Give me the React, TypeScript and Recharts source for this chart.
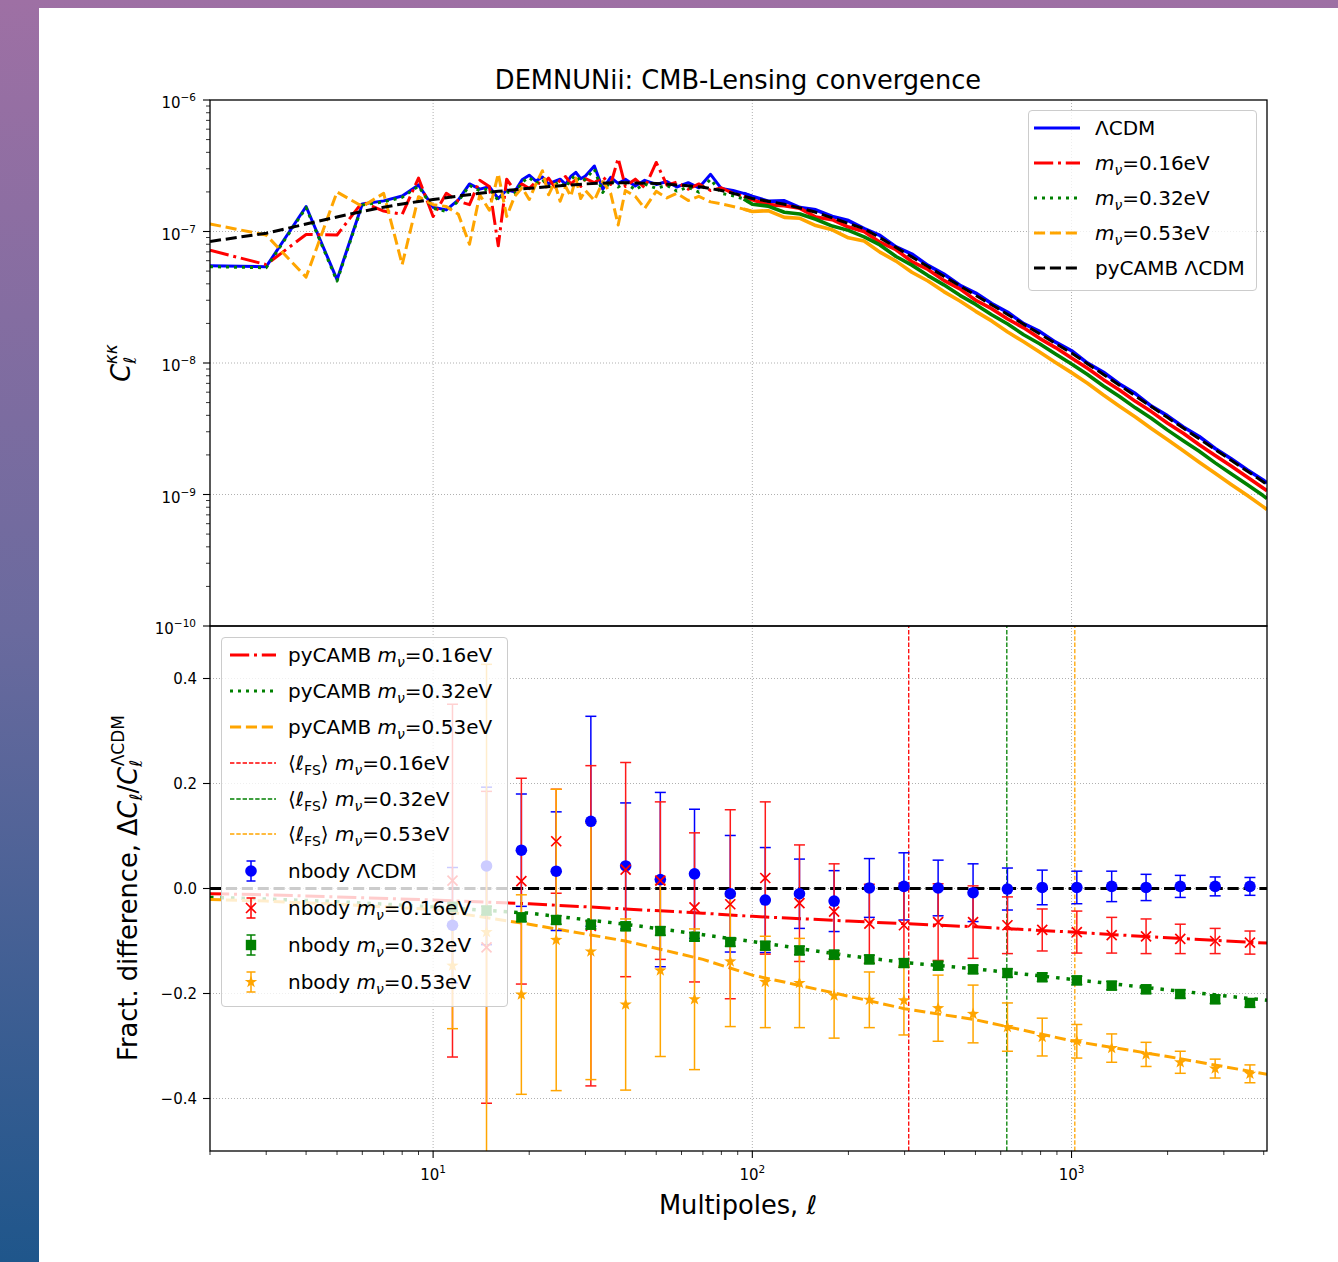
import React from 'react';
import { ComposedChart, Line, Scatter, ErrorBar, XAxis, YAxis, ReferenceLine } from 'recharts';

const FONT = '"DejaVu Sans", Verdana, sans-serif';

// matplotlib axes boxes
const PLOT_LEFT = 210;
const PLOT_RIGHT = 1267;
const TOP_Y0 = 100;
const MID_Y = 626;
const BOT_Y1 = 1151;

const BLUE = '#0000ff';
const RED = '#ff0000';
const GREEN = '#008000';
const ORANGE = '#ffa500';

// ---------- top panel: N-body convergence spectra ----------
const topL = [
  2, 3, 4, 5, 6, 7, 8, 9, 10, 11, 12, 13, 14, 15, 16, 17, 18, 19, 20, 21, 22, 23, 24, 25, 26, 27, 28, 29, 30,
  32, 34, 36, 38, 40, 43, 46, 50, 54, 58, 63, 68, 74, 80, 87, 94,
  100, 112, 126, 141, 158, 178, 200, 224, 251, 282, 316, 355, 398, 447, 501, 562, 631, 708, 794, 891,
  1000, 1122, 1259, 1413, 1585, 1778, 1995, 2239, 2512, 2818, 3162, 3548, 3981, 4096,
];

const lcdmTop = [
  5.5e-8, 5.4e-8, 1.55e-7, 4.3e-8, 1.62e-7, 1.71e-7, 1.86e-7, 2.26e-7, 1.53e-7, 1.46e-7, 1.74e-7, 2.3e-7, 2.1e-7, 2.19e-7,
  1.78e-7, 2.07e-7, 2.0e-7, 2.47e-7, 2.68e-7, 2.42e-7, 2.6e-7, 2.3e-7, 2.4e-7, 2.5e-7, 2.28e-7, 2.62e-7, 2.82e-7, 2.52e-7, 2.64e-7,
  3.15e-7, 2.1e-7, 2.58e-7, 2.32e-7, 2.5e-7, 2.22e-7, 2.45e-7, 2.28e-7, 2.4e-7, 2.18e-7, 2.35e-7, 2.15e-7, 2.72e-7, 2.12e-7, 2.05e-7, 1.95e-7,
  1.85e-7, 1.7e-7, 1.71e-7, 1.52e-7, 1.46e-7, 1.3e-7, 1.21e-7, 1.05e-7, 9.33e-8, 7.64e-8, 6.74e-8, 5.52e-8, 4.75e-8, 3.9e-8, 3.4e-8,
  2.83e-8, 2.43e-8, 1.99e-8, 1.74e-8, 1.44e-8, 1.24e-8, 9.97e-9, 8.51e-9, 6.92e-9, 5.85e-9, 4.7e-9, 3.98e-9, 3.26e-9, 2.76e-9,
  2.24e-9, 1.87e-9, 1.54e-9, 1.29e-9, 1.22e-9,
];

const nu016Top = [
  7.2e-8, 5.6e-8, 9.5e-8, 9.4e-8, 1.67e-7, 1.43e-7, 1.35e-7, 2.55e-7, 1.3e-7, 1.95e-7, 1.7e-7, 1.6e-7, 2.45e-7, 2.2e-7,
  7.8e-8, 2.5e-7, 2.05e-7, 2.3e-7, 2.12e-7, 2.4e-7, 2.25e-7, 2.55e-7, 2.18e-7, 2.45e-7, 2.62e-7, 2.3e-7, 2.48e-7, 2.2e-7, 2.52e-7,
  2.35e-7, 2.6e-7, 2.28e-7, 3.6e-7, 2.2e-7, 2.5e-7, 2.15e-7, 3.35e-7, 2.25e-7, 2.38e-7, 2.1e-7, 2.3e-7, 2.05e-7, 2.15e-7, 1.95e-7, 1.85e-7,
  1.74e-7, 1.6e-7, 1.57e-7, 1.5e-7, 1.29e-7, 1.23e-7, 1.08e-7, 1.0e-7, 8.3e-8, 7.27e-8, 5.91e-8, 5.14e-8, 4.25e-8, 3.66e-8, 3.0e-8,
  2.59e-8, 2.16e-8, 1.85e-8, 1.54e-8, 1.31e-8, 1.09e-8, 9.12e-9, 7.47e-9, 6.24e-9, 5.11e-9, 4.27e-9, 3.5e-9, 2.92e-9, 2.39e-9,
  1.98e-9, 1.65e-9, 1.36e-9, 1.12e-9, 1.07e-9,
];

const nu032Top = [
  5.4e-8, 5.3e-8, 1.52e-7, 4.2e-8, 1.59e-7, 1.68e-7, 1.82e-7, 2.21e-7, 1.5e-7, 1.42e-7, 1.7e-7, 2.24e-7, 2.04e-7, 2.12e-7,
  1.72e-7, 2.0e-7, 1.93e-7, 2.38e-7, 2.58e-7, 2.32e-7, 2.49e-7, 2.2e-7, 2.29e-7, 2.38e-7, 2.17e-7, 2.49e-7, 2.68e-7, 2.39e-7, 2.5e-7,
  2.98e-7, 1.98e-7, 2.43e-7, 2.18e-7, 2.35e-7, 2.08e-7, 2.29e-7, 2.13e-7, 2.24e-7, 2.03e-7, 2.18e-7, 1.99e-7, 2.5e-7, 1.95e-7, 1.87e-7, 1.77e-7,
  1.61e-7, 1.56e-7, 1.4e-7, 1.36e-7, 1.24e-7, 1.1e-7, 1.02e-7, 9.09e-8, 7.9e-8, 6.45e-8, 5.55e-8, 4.62e-8, 3.93e-8, 3.27e-8, 2.79e-8,
  2.33e-8, 1.98e-8, 1.64e-8, 1.4e-8, 1.17e-8, 9.82e-9, 8.18e-9, 6.68e-9, 5.57e-9, 4.56e-9, 3.8e-9, 3.1e-9, 2.56e-9, 2.13e-9,
  1.74e-9, 1.44e-9, 1.19e-9, 9.81e-10, 9.33e-10,
];

const nu053Top = [
  1.14e-7, 9.4e-8, 4.5e-8, 2.0e-7, 1.55e-7, 1.95e-7, 5.6e-8, 1.84e-7, 1.6e-7, 1.55e-7, 1.35e-7, 8.0e-8, 1.9e-7, 1.45e-7,
  2.75e-7, 1.3e-7, 1.85e-7, 2.15e-7, 1.75e-7, 2.3e-7, 2.9e-7, 1.9e-7, 2.35e-7, 1.7e-7, 2.2e-7, 1.85e-7, 2.55e-7, 1.78e-7, 2.05e-7,
  1.72e-7, 2.4e-7, 1.95e-7, 1.12e-7, 2.05e-7, 1.85e-7, 1.5e-7, 2.02e-7, 1.8e-7, 1.95e-7, 1.72e-7, 1.85e-7, 1.68e-7, 1.62e-7, 1.55e-7, 1.48e-7,
  1.42e-7, 1.44e-7, 1.28e-7, 1.26e-7, 1.11e-7, 1.03e-7, 8.96e-8, 8.46e-8, 6.97e-8, 5.95e-8, 4.9e-8, 4.2e-8, 3.49e-8, 2.96e-8, 2.47e-8,
  2.09e-8, 1.72e-8, 1.45e-8, 1.21e-8, 1.01e-8, 8.45e-9, 7.02e-9, 5.71e-9, 4.69e-9, 3.89e-9, 3.18e-9, 2.62e-9, 2.15e-9, 1.76e-9,
  1.45e-9, 1.19e-9, 9.85e-10, 8.09e-10, 7.68e-10,
];

// pyCAMB LCDM reference spectrum
const cambL = [
  2, 3, 4, 5, 6, 7, 8, 9, 10, 12, 14, 16, 18, 20, 25, 30, 35, 40, 50, 60, 70, 80, 90,
  100, 112, 126, 141, 158, 178, 200, 224, 251, 282, 316, 355, 398, 447, 501, 562, 631, 708, 794, 891,
  1000, 1122, 1259, 1413, 1585, 1778, 1995, 2239, 2512, 2818, 3162, 3548, 3981, 4096,
];
const cambLcdm = [
  8.4e-8, 9.7e-8, 1.14e-7, 1.29e-7, 1.42e-7, 1.53e-7, 1.62e-7, 1.69e-7, 1.75e-7, 1.86e-7, 1.95e-7, 2.02e-7, 2.08e-7, 2.13e-7,
  2.23e-7, 2.3e-7, 2.34e-7, 2.35e-7, 2.32e-7, 2.25e-7, 2.17e-7, 2.05e-7, 1.91e-7,
  1.78e-7, 1.7e-7, 1.61e-7, 1.51e-7, 1.4e-7, 1.27e-7, 1.15e-7, 1.05e-7, 8.97e-8, 7.57e-8, 6.41e-8, 5.41e-8, 4.57e-8, 3.86e-8,
  3.27e-8, 2.77e-8, 2.34e-8, 1.97e-8, 1.67e-8, 1.41e-8,
  1.19e-8, 9.87e-9, 8.18e-9, 6.78e-9, 5.62e-9, 4.66e-9, 3.86e-9, 3.2e-9, 2.65e-9, 2.2e-9, 1.82e-9, 1.51e-9, 1.25e-9, 1.19e-9,
];

// ---------- bottom panel: fractional differences ----------
const fracL = [2, 3, 5, 10, 20, 40, 70, 100, 200, 300, 500, 1000, 2000, 4096];
const camb016 = [-0.01, -0.012, -0.016, -0.022, -0.029, -0.039, -0.047, -0.053, -0.062, -0.067, -0.073, -0.083, -0.094, -0.104];
const camb032 = [-0.017, -0.02, -0.025, -0.035, -0.047, -0.068, -0.088, -0.101, -0.128, -0.141, -0.153, -0.173, -0.193, -0.213];
const camb053 = [-0.021, -0.024, -0.03, -0.04, -0.068, -0.1, -0.135, -0.165, -0.205, -0.229, -0.25, -0.29, -0.32, -0.354];

// mean free-streaming multipoles
const lfs016 = 309;
const lfs032 = 627;
const lfs053 = 1024;

// binned N-body measurements
const binL = [11.5, 14.7, 18.9, 24.3, 31.2, 40.1, 51.5, 65.9, 85.3, 109.8, 140.5, 180.4, 232.6, 298.5, 382, 491.5, 629.8, 809.5, 1039, 1336, 1712, 2191, 2818, 3622];
const lcdmFrac = [-0.07, 0.043, 0.073, 0.033, 0.128, 0.043, 0.017, 0.028, -0.01, -0.022, -0.01, -0.024, 0.001, 0.004, 0.001, -0.008, -0.001, 0.002, 0.002, 0.004, 0.002, 0.004, 0.004, 0.004];
const lcdmErr = [0.11, 0.15, 0.107, 0.113, 0.2, 0.12, 0.166, 0.123, 0.111, 0.1, 0.066, 0.058, 0.056, 0.064, 0.053, 0.055, 0.04, 0.033, 0.031, 0.029, 0.025, 0.021, 0.018, 0.017];
const nu016Frac = [0.015, -0.112, 0.014, 0.09, -0.071, 0.036, 0.015, -0.036, -0.03, 0.02, -0.028, -0.044, -0.067, -0.07, -0.064, -0.064, -0.07, -0.079, -0.083, -0.089, -0.091, -0.096, -0.1, -0.103];
const nu016Err = [0.336, 0.297, 0.196, 0.099, 0.305, 0.204, 0.15, 0.142, 0.18, 0.145, 0.111, 0.091, 0.075, 0.08, 0.073, 0.069, 0.054, 0.04, 0.04, 0.034, 0.033, 0.028, 0.024, 0.022];
const nu032Frac = [-0.035, -0.042, -0.055, -0.06, -0.069, -0.072, -0.081, -0.092, -0.102, -0.109, -0.118, -0.126, -0.135, -0.142, -0.147, -0.154, -0.161, -0.169, -0.175, -0.185, -0.192, -0.201, -0.211, -0.218];
const nu032Err = [0.008, 0.008, 0.008, 0.008, 0.008, 0.008, 0.008, 0.008, 0.008, 0.008, 0.008, 0.008, 0.008, 0.008, 0.008, 0.008, 0.008, 0.008, 0.008, 0.008, 0.008, 0.008, 0.008, 0.008];
const nu053Frac = [-0.147, -0.083, -0.202, -0.098, -0.12, -0.221, -0.156, -0.211, -0.139, -0.178, -0.18, -0.204, -0.212, -0.213, -0.228, -0.239, -0.264, -0.283, -0.291, -0.304, -0.316, -0.331, -0.343, -0.353];
const nu053Err = [0.12, 0.51, 0.19, 0.287, 0.244, 0.163, 0.164, 0.134, 0.124, 0.087, 0.085, 0.081, 0.053, 0.066, 0.063, 0.055, 0.046, 0.036, 0.032, 0.027, 0.023, 0.021, 0.018, 0.017];

// tick positions
const xMajor = [10, 100, 1000];
const xTicks: number[] = [];
[1, 10, 100, 1000].forEach((d) => {
  for (let m = 1; m <= 9; m++) if (m * d >= 2 && m * d <= 4096) xTicks.push(m * d);
});
const yTopTicks: number[] = [];
[-10, -9, -8, -7].forEach((e) => {
  for (let m = 1; m <= 9; m++) yTopTicks.push(m * Math.pow(10, e));
});
yTopTicks.push(1e-6);
const yTopGrid = [1e-9, 1e-8, 1e-7];
const yBotTicks = [-0.4, -0.2, 0, 0.2, 0.4];

// ---------- tables for recharts ----------
const topData = topL.map((l, i) => ({ l, lcdm: lcdmTop[i], nu016: nu016Top[i], nu032: nu032Top[i], nu053: nu053Top[i] }));
// above l~100 the simulated spectra are a dense noisy band, so they read as solid there
const topLow = topData.filter((d) => d.l <= 100);
const topHigh = topData.filter((d) => d.l >= 94);
const cambTopData = cambL.map((l, i) => ({ l, v: cambLcdm[i] }));
const frac016Data = fracL.map((l, i) => ({ l, v: camb016[i] }));
const frac032Data = fracL.map((l, i) => ({ l, v: camb032[i] }));
const frac053Data = fracL.map((l, i) => ({ l, v: camb053[i] }));
const bins = (ys: number[], errs: number[]) => binL.map((l, i) => ({ l, y: ys[i], err: errs[i] }));

const GRID = { stroke: '#b0b0b0', strokeWidth: 1, strokeDasharray: '1 2' };
const DASHDOT = '19.2 4.8 3 4.8';
const DOTTED = '3 5';
const DASHED = '11.1 4.8';
const THIN_DASH = '4.4 1.9';
const BIG = 25.7;

const isDecade = (v: number) => Math.abs(Math.log10(v) - Math.round(Math.log10(v))) < 1e-6;
const minus = (s: string) => s.replace('-', '\u2212');

const TopYTick = (props: any) => {
  const { y, payload } = props;
  const v = payload.value;
  const major = isDecade(v);
  const e = Math.round(Math.log10(v));
  return (
    <g>
      <line x1={PLOT_LEFT - (major ? 7 : 4)} x2={PLOT_LEFT} y1={y} y2={y} stroke="#000" strokeWidth={major ? 1.1 : 0.8} />
      {major && (
        <text x={PLOT_LEFT - 14} y={y + 8} textAnchor="end" fontSize={15} fontFamily={FONT} fill="#000">
          10<tspan dy={-7} fontSize={10.5}>{minus(String(e))}</tspan>
        </text>
      )}
    </g>
  );
};

const BotYTick = (props: any) => {
  const { y, payload } = props;
  return (
    <g>
      <line x1={PLOT_LEFT - 7} x2={PLOT_LEFT} y1={y} y2={y} stroke="#000" strokeWidth={1.1} />
      <text x={PLOT_LEFT - 13} y={y + 5.5} textAnchor="end" fontSize={15} fontFamily={FONT} fill="#000">
        {minus(payload.value.toFixed(1))}
      </text>
    </g>
  );
};

const BotXTick = (props: any) => {
  const { x, payload } = props;
  const v = payload.value;
  const major = xMajor.includes(v);
  return (
    <g>
      <line x1={x} x2={x} y1={BOT_Y1} y2={BOT_Y1 + (major ? 7 : 4)} stroke="#000" strokeWidth={major ? 1.1 : 0.8} />
      {major && (
        <text x={x} y={BOT_Y1 + 29} textAnchor="middle" fontSize={15} fontFamily={FONT} fill="#000">
          10<tspan dy={-7} fontSize={10.5}>{Math.round(Math.log10(v))}</tspan>
        </text>
      )}
    </g>
  );
};

// markers
const starPath = (cx: number, cy: number, R: number, r: number) => {
  let d = '';
  for (let k = 0; k < 10; k++) {
    const a = -Math.PI / 2 + (k * Math.PI) / 5;
    const rad = k % 2 === 0 ? R : r;
    d += (k ? 'L' : 'M') + (cx + rad * Math.cos(a)).toFixed(2) + ',' + (cy + rad * Math.sin(a)).toFixed(2);
  }
  return d + 'Z';
};
const Dot = (p: any) => <circle cx={p.cx} cy={p.cy} r={5.8} fill={BLUE} />;
const Cross = (p: any) => (
  <path d={`M${p.cx - 5},${p.cy - 5}L${p.cx + 5},${p.cy + 5}M${p.cx - 5},${p.cy + 5}L${p.cx + 5},${p.cy - 5}`} stroke={RED} strokeWidth={1.7} fill="none" />
);
const Square = (p: any) => <rect x={p.cx - 5.2} y={p.cy - 5.2} width={10.4} height={10.4} fill={GREEN} />;
const Star = (p: any) => <path d={starPath(p.cx, p.cy, 6.5, 2.6)} fill={ORANGE} />;

function TopPanel() {
  const common = { dot: false as const, strokeLinejoin: 'round' as const, isAnimationActive: false };
  return (
    <ComposedChart width={1338} height={640} data={topData} margin={{ top: TOP_Y0, right: 1338 - PLOT_RIGHT, bottom: 640 - MID_Y, left: PLOT_LEFT - 60 }}>
      <XAxis type="number" dataKey="l" scale="log" domain={[2, 4096]} allowDataOverflow hide />
      <YAxis type="number" scale="log" domain={[1e-10, 1e-6]} allowDataOverflow ticks={yTopTicks} interval={0}
        tick={(p: any) => <TopYTick {...p} />} tickLine={false} axisLine={false} width={60} />
      {xMajor.map((v) => <ReferenceLine key={'gx' + v} x={v} {...GRID} />)}
      {yTopGrid.map((v) => <ReferenceLine key={'gy' + v} y={v} {...GRID} />)}
      <Line data={topLow} dataKey="lcdm" stroke={BLUE} strokeWidth={3} {...common} />
      <Line data={topHigh} dataKey="lcdm" stroke={BLUE} strokeWidth={3.6} {...common} />
      <Line data={topLow} dataKey="nu016" stroke={RED} strokeWidth={3} strokeDasharray={DASHDOT} {...common} />
      <Line data={topHigh} dataKey="nu016" stroke={RED} strokeWidth={3.6} {...common} />
      <Line data={topLow} dataKey="nu032" stroke={GREEN} strokeWidth={3} strokeDasharray={DOTTED} {...common} />
      <Line data={topHigh} dataKey="nu032" stroke={GREEN} strokeWidth={3.6} {...common} />
      <Line data={topLow} dataKey="nu053" stroke={ORANGE} strokeWidth={3} strokeDasharray={DASHED} {...common} />
      <Line data={topHigh} dataKey="nu053" stroke={ORANGE} strokeWidth={3.6} {...common} />
      <Line data={cambTopData} dataKey="v" stroke="#000" strokeWidth={3} strokeDasharray={DASHED} dot={false} isAnimationActive={false} />
    </ComposedChart>
  );
}

// drawn twice: once for the axes, once (clipped to the axes box) for the data
function BottomPanel({ withData }: { withData: boolean }) {
  return (
    <ComposedChart width={1338} height={1262} margin={{ top: MID_Y, right: 1338 - PLOT_RIGHT, bottom: 1262 - BOT_Y1 - 40, left: PLOT_LEFT - 60 }}>
      <XAxis type="number" dataKey="l" scale="log" domain={[2, 4096]} allowDataOverflow ticks={xTicks} interval={0}
        tick={withData ? false : (p: any) => <BotXTick {...p} />} tickLine={false} axisLine={false} height={40} />
      <YAxis type="number" domain={[-0.5, 0.5]} allowDataOverflow ticks={yBotTicks} interval={0}
        tick={withData ? false : (p: any) => <BotYTick {...p} />} tickLine={false} axisLine={false} width={60} />
      {withData && xMajor.map((v) => <ReferenceLine key={'gx' + v} x={v} {...GRID} />)}
      {withData && yBotTicks.map((v) => <ReferenceLine key={'gy' + v} y={v} {...GRID} />)}
      {withData && <ReferenceLine x={lfs016} stroke={RED} strokeWidth={1.3} strokeDasharray={THIN_DASH} />}
      {withData && <ReferenceLine x={lfs032} stroke={GREEN} strokeWidth={1.3} strokeDasharray={THIN_DASH} />}
      {withData && <ReferenceLine x={lfs053} stroke={ORANGE} strokeWidth={1.3} strokeDasharray={THIN_DASH} />}
      {withData && <Line data={frac016Data} dataKey="v" stroke={RED} strokeWidth={3} strokeDasharray={DASHDOT} dot={false} isAnimationActive={false} />}
      {withData && <Line data={frac032Data} dataKey="v" stroke={GREEN} strokeWidth={3.5} strokeDasharray="3.5 7" dot={false} isAnimationActive={false} />}
      {withData && <Line data={frac053Data} dataKey="v" stroke={ORANGE} strokeWidth={3} strokeDasharray={DASHED} dot={false} isAnimationActive={false} />}
      {withData && <ReferenceLine y={0} stroke="#000" strokeWidth={3} strokeDasharray={DASHED} />}
      {withData && (
        <Scatter data={bins(lcdmFrac, lcdmErr)} dataKey="y" shape={Dot} isAnimationActive={false}>
          <ErrorBar dataKey="err" direction="y" width={5.5} stroke={BLUE} strokeWidth={1.5} isAnimationActive={false} />
        </Scatter>
      )}
      {withData && (
        <Scatter data={bins(nu016Frac, nu016Err)} dataKey="y" shape={Cross} isAnimationActive={false}>
          <ErrorBar dataKey="err" direction="y" width={5.5} stroke="#ff1a1a" strokeWidth={1.5} isAnimationActive={false} />
        </Scatter>
      )}
      {withData && (
        <Scatter data={bins(nu032Frac, nu032Err)} dataKey="y" shape={Square} isAnimationActive={false}>
          <ErrorBar dataKey="err" direction="y" width={5.5} stroke={GREEN} strokeWidth={1.5} isAnimationActive={false} />
        </Scatter>
      )}
      {withData && (
        <Scatter data={bins(nu053Frac, nu053Err)} dataKey="y" shape={Star} isAnimationActive={false}>
          <ErrorBar dataKey="err" direction="y" width={5.5} stroke={ORANGE} strokeWidth={1.5} isAnimationActive={false} />
        </Scatter>
      )}
    </ComposedChart>
  );
}

// ---------- legends ----------
const Sub = ({ children, italic }: { children: React.ReactNode; italic?: boolean }) => (
  <span style={{ fontSize: 14, fontStyle: italic ? 'italic' : 'normal', position: 'relative', top: 5 }}>{children}</span>
);
const Mnu = ({ v }: { v: string }) => (
  <>
    <i>m</i>
    <Sub italic>ν</Sub>={v}eV
  </>
);
const LFS = () => (
  <>
    ⟨<i>ℓ</i>
    <Sub>FS</Sub>⟩
  </>
);

const lineSample = (color: string, dash?: string, w = 3) => (
  <line x1={0} x2={46} y1={15} y2={15} stroke={color} strokeWidth={w} strokeDasharray={dash} />
);
const errSample = (marker: React.ReactNode, color: string) => (
  <g>
    <line x1={21} x2={21} y1={5} y2={25} stroke={color} strokeWidth={1.5} />
    <line x1={16.5} x2={25.5} y1={5} y2={5} stroke={color} strokeWidth={1.5} />
    <line x1={16.5} x2={25.5} y1={25} y2={25} stroke={color} strokeWidth={1.5} />
    {marker}
  </g>
);

type Row = { y: number; sample: React.ReactNode; label: React.ReactNode };

const Legend = ({ left, top, width, height, sampleLeft, textLeft, rows }: {
  left: number; top: number; width: number; height: number; sampleLeft: number; textLeft: number; rows: Row[];
}) => (
  <div style={{
    position: 'absolute', left, top, width, height, boxSizing: 'border-box', background: 'rgba(255,255,255,0.8)',
    border: '1px solid #cccccc', borderRadius: 4, fontFamily: FONT, fontSize: 20, color: '#000',
  }}>
    {rows.map((r, i) => (
      <div key={i} style={{ position: 'absolute', left: 0, top: r.y - 15, height: 30, width: '100%' }}>
        <svg width={50} height={30} style={{ position: 'absolute', left: sampleLeft, top: 0, overflow: 'visible' }}>{r.sample}</svg>
        <div style={{ position: 'absolute', left: textLeft, top: 0, height: 30, lineHeight: '30px', whiteSpace: 'nowrap' }}>{r.label}</div>
      </div>
    ))}
  </div>
);

const topRows: Row[] = [
  { y: 16.5, sample: lineSample(BLUE), label: <>ΛCDM</> },
  { y: 51.5, sample: lineSample(RED, DASHDOT), label: <Mnu v="0.16" /> },
  { y: 86.5, sample: lineSample(GREEN, DOTTED), label: <Mnu v="0.32" /> },
  { y: 121.5, sample: lineSample(ORANGE, DASHED), label: <Mnu v="0.53" /> },
  { y: 156.5, sample: lineSample('#000', DASHED), label: <>pyCAMB ΛCDM</> },
];

const botRows: Row[] = [
  { y: 16.5, sample: lineSample(RED, DASHDOT), label: <>pyCAMB <Mnu v="0.16" /></> },
  { y: 53, sample: lineSample(GREEN, DOTTED), label: <>pyCAMB <Mnu v="0.32" /></> },
  { y: 89, sample: lineSample(ORANGE, DASHED), label: <>pyCAMB <Mnu v="0.53" /></> },
  { y: 125, sample: lineSample(RED, THIN_DASH, 1.3), label: <><LFS /> <Mnu v="0.16" /></> },
  { y: 160.5, sample: lineSample(GREEN, THIN_DASH, 1.3), label: <><LFS /> <Mnu v="0.32" /></> },
  { y: 196, sample: lineSample(ORANGE, THIN_DASH, 1.3), label: <><LFS /> <Mnu v="0.53" /></> },
  { y: 232.5, sample: errSample(<Dot cx={21} cy={15} />, BLUE), label: <>nbody ΛCDM</> },
  { y: 269.5, sample: errSample(<Cross cx={21} cy={15} />, RED), label: <>nbody <Mnu v="0.16" /></> },
  { y: 306.5, sample: errSample(<Square cx={21} cy={15} />, GREEN), label: <>nbody <Mnu v="0.32" /></> },
  { y: 343.5, sample: errSample(<Star cx={21} cy={15} />, ORANGE), label: <>nbody <Mnu v="0.53" /></> },
];

export default function App() {
  return (
    <div style={{
      position: 'absolute', left: 0, top: 0, width: 1338, height: 1262, overflow: 'hidden',
      background: 'linear-gradient(180deg, #9e70a4 0%, #6a6a9e 50%, #1f568b 100%)', fontFamily: FONT,
    }}>
      <div style={{ position: 'absolute', left: 39, top: 8, right: 0, bottom: 0, background: '#ffffff' }} />
      <div style={{ position: 'absolute', left: 0, top: 0 }}><TopPanel /></div>
      <div style={{ position: 'absolute', left: 0, top: 0 }}><BottomPanel withData={false} /></div>
      <div style={{ position: 'absolute', left: PLOT_LEFT, top: MID_Y, width: PLOT_RIGHT - PLOT_LEFT, height: BOT_Y1 - MID_Y, overflow: 'hidden' }}>
        <div style={{ position: 'absolute', left: -PLOT_LEFT, top: -MID_Y }}><BottomPanel withData /></div>
      </div>
      <svg width={1338} height={1262} style={{ position: 'absolute', left: 0, top: 0, pointerEvents: 'none' }} fontFamily={FONT}>
        <rect x={PLOT_LEFT} y={TOP_Y0} width={PLOT_RIGHT - PLOT_LEFT} height={MID_Y - TOP_Y0} fill="none" stroke="#000" strokeWidth={1.3} />
        <rect x={PLOT_LEFT} y={MID_Y} width={PLOT_RIGHT - PLOT_LEFT} height={BOT_Y1 - MID_Y} fill="none" stroke="#000" strokeWidth={1.3} />
        <text x={738} y={89} textAnchor="middle" fontSize={BIG} fill="#000">DEMNUNii: CMB-Lensing convergence</text>
        <text x={738} y={1214} textAnchor="middle" fontSize={BIG} fill="#000">
          Multipoles, <tspan fontStyle="italic">ℓ</tspan>
        </text>
        <text transform="translate(130,363) rotate(-90)" textAnchor="middle" fontSize={BIG} fill="#000">
          <tspan fontStyle="italic">C</tspan>
          <tspan fontStyle="italic" fontSize={17} dy={6}>ℓ</tspan>
          <tspan fontStyle="italic" fontSize={17} dx={-7.5} dy={-19}>κκ</tspan>
        </text>
        <text transform="translate(137,888) rotate(-90)" textAnchor="middle" fontSize={BIG} fill="#000">
          Fract. difference, Δ<tspan fontStyle="italic">C</tspan>
          <tspan fontStyle="italic" fontSize={17} dy={5}>ℓ</tspan>
          <tspan dy={-5}>/</tspan>
          <tspan fontStyle="italic">C</tspan>
          <tspan fontStyle="italic" fontSize={17} dy={5}>ℓ</tspan>
          <tspan fontSize={17} dx={-6.5} dy={-18}>ΛCDM</tspan>
        </text>
      </svg>
      <Legend left={1028} top={110} width={229} height={181} sampleLeft={5} textLeft={66} rows={topRows} />
      <Legend left={221} top={637} width={287} height={370} sampleLeft={8} textLeft={66} rows={botRows} />
    </div>
  );
}
